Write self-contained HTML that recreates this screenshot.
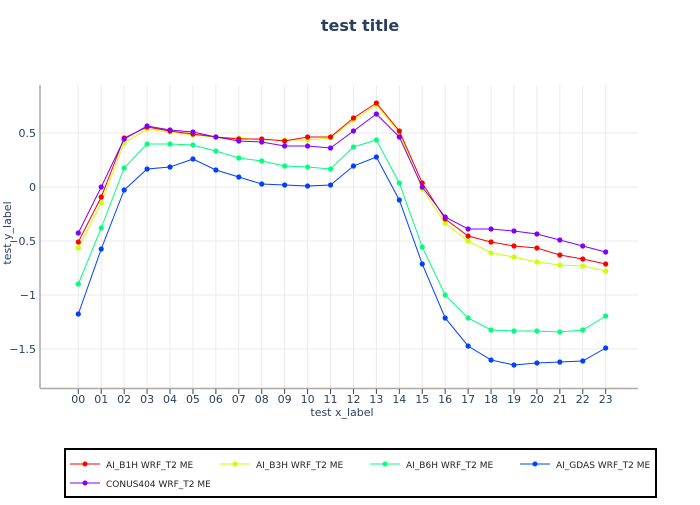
<!DOCTYPE html>
<html><head><meta charset="utf-8"><style>
body{margin:0;background:#fff;}
svg{font-family:"DejaVu Sans","Liberation Sans",sans-serif;}
</style></head><body>
<svg id="s" width="700" height="500" viewBox="0 0 700 500" xmlns="http://www.w3.org/2000/svg">
<rect width="700" height="500" fill="#fff"/>
<text x="360" y="31" text-anchor="middle" font-size="16" font-weight="bold" fill="#2a3f5f">test title</text>
<g id="grid"></g>
<line x1="40" y1="85" x2="40" y2="388.5" stroke="#aaa" stroke-width="1.5"/>
<line x1="40" y1="388.5" x2="638" y2="388.5" stroke="#aaa" stroke-width="1.5"/>
<g font-size="11" fill="#2a3f5f" text-anchor="end">
<text x="36" y="137">0.5</text><text x="36" y="191">0</text><text x="36" y="245">−0.5</text><text x="36" y="299">−1</text><text x="36" y="353">−1.5</text>
</g>
<text x="11" y="233" font-size="11" fill="#2a3f5f" text-anchor="middle" transform="rotate(-90 11 233)">test y_label</text>
<text x="342" y="416" font-size="11" fill="#2a3f5f" text-anchor="middle">test x_label</text>
<g id="xt" font-size="11" fill="#2a3f5f" text-anchor="middle"></g>
<g id="series"></g>
<rect x="65" y="449" width="591" height="48" fill="#fff" stroke="#000" stroke-width="2"/>
<g font-size="9" fill="#222">
<line x1="70" y1="464" x2="100" y2="464" stroke="#ff0000"/><circle cx="85" cy="464" r="2.5" fill="#ff0000"/><text x="106" y="468">AI_B1H WRF_T2 ME</text>
<line x1="220" y1="464" x2="250" y2="464" stroke="#ccff00"/><circle cx="235" cy="464" r="2.5" fill="#ccff00"/><text x="256" y="468">AI_B3H WRF_T2 ME</text>
<line x1="370" y1="464" x2="400" y2="464" stroke="#00ff80"/><circle cx="385" cy="464" r="2.5" fill="#00ff80"/><text x="406" y="468">AI_B6H WRF_T2 ME</text>
<line x1="520" y1="464" x2="550" y2="464" stroke="#0040ff"/><circle cx="535" cy="464" r="2.5" fill="#0040ff"/><text x="556" y="468">AI_GDAS WRF_T2 ME</text>
<line x1="70" y1="483" x2="100" y2="483" stroke="#8000ff"/><circle cx="85" cy="483" r="2.5" fill="#8000ff"/><text x="106" y="487">CONUS404 WRF_T2 ME</text>
</g>
</svg>
<script>
var ns="http://www.w3.org/2000/svg";
function X(i){return 78.3+i*22.93;}
var g=document.getElementById('grid'),xt=document.getElementById('xt'),se=document.getElementById('series');
function el(p,t,a){var e=document.createElementNS(ns,t);for(var k in a)e.setAttribute(k,a[k]);p.appendChild(e);return e;}
for(var i=0;i<24;i++){el(g,'line',{x1:X(i),x2:X(i),y1:85,y2:388,stroke:'#ebebeb'});
el(xt,'line',{x1:X(i),x2:X(i),y1:389,y2:394,stroke:'#444'});
var t=el(xt,'text',{x:X(i),y:403});t.textContent=(i<10?'0':'')+i;}
[133,187,241,295,349].forEach(function(y){el(g,'line',{x1:40,x2:638,y1:y,y2:y,stroke:'#ebebeb'});});
var S=[
['#00ff80',[284,228,168,144,144,145,151,158,161,166,167,169,147,140,183,247,295,318,330,331,331,332,330,316]],
['#0040ff',[314,249,190,169,167,159,170,177,184,185,186,185,166,157,200,264,318,346,360,365,363,362,361,348]],
['#ccff00',[248,203,143,129,132,135,137,138,140,140,140,138,120,105,133,189,223,241,253,257,262,265,266,271]],
['#ff0000',[242,197,138,127,131,134,137,139,139,141,137,137,118,103,131,183,219,236,242,246,248,255,259,264]],
['#8000ff',[233,187,139,126,130,132,137,141,142,146,146,148,131,114,137,187,217,229,229,231,234,240,246,252]]];
S.forEach(function(s){var p=s[1].map(function(y,i){return X(i)+','+y;}).join(' ');
el(se,'polyline',{points:p,fill:'none',stroke:s[0],'stroke-width':1});
s[1].forEach(function(y,i){el(se,'circle',{cx:X(i),cy:y,r:2.6,fill:s[0]});});});
</script>
</body></html>
